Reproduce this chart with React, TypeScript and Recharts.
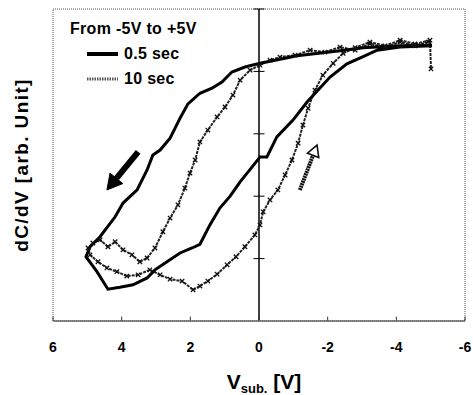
import React from 'react';
import { LineChart, Line, XAxis, YAxis, ReferenceLine, ReferenceArea, Legend } from 'recharts';

// 0.5 sec sweep (black), loop order
const blackX = [-5.04,-4.11,-3.03,-2.36,-1.11,-0.47,-0.03,0.41,0.79,1.08,1.37,1.72,2.07,2.30,2.59,2.88,3.09,3.26,3.55,3.96,4.19,4.63,4.92,5.04,
  4.72,4.40,4.05,3.67,3.26,3.03,2.68,2.30,1.95,1.72,1.43,1.14,0.84,0.55,0.20,-0.03,-0.23,-0.52,-0.99,-1.40,-2.07,-2.56,-3.00,-3.44,-4.11,-5.04];
const blackY = [4.42,4.41,4.38,4.33,4.25,4.18,4.13,4.07,3.99,3.83,3.73,3.65,3.48,3.25,2.93,2.74,2.66,2.42,2.10,1.89,1.67,1.35,1.19,1.03,
  0.79,0.51,0.54,0.58,0.69,0.82,0.95,1.09,1.17,1.23,1.54,1.81,2.00,2.23,2.47,2.63,2.63,2.95,3.22,3.51,3.91,4.12,4.23,4.34,4.39,4.41];

// 10 sec sweep (gray, markers), loop order
const grayX = [-4.92,-4.54,-4.11,-3.67,-3.23,-2.80,-2.36,-1.92,-1.49,-1.05,-0.61,-0.32,-0.03,0.26,0.55,0.76,0.99,1.22,1.49,1.72,1.86,2.01,2.16,2.36,2.59,2.80,3.03,3.26,3.47,3.70,3.96,4.19,4.40,4.63,4.84,4.98,
  4.92,4.69,4.43,4.14,3.85,3.52,3.18,2.88,2.59,2.24,1.92,1.72,1.49,1.22,0.93,0.67,0.41,0.12,-0.03,-0.12,-0.32,-0.55,-0.76,-0.96,-1.14,-1.28,-1.43,-1.63,-1.86,-2.16,-2.45,-2.80,-3.23,-3.67,-4.11,-4.54,-4.98,-5.01];
const grayY = [4.47,4.41,4.47,4.38,4.44,4.34,4.39,4.31,4.34,4.26,4.23,4.18,4.10,4.02,3.86,3.62,3.43,3.27,3.06,2.87,2.58,2.37,2.13,1.86,1.65,1.43,1.17,1.01,0.95,1.06,1.14,1.27,1.19,1.30,1.25,1.17,
  1.06,0.95,0.85,0.79,0.72,0.74,0.82,0.74,0.67,0.64,0.50,0.56,0.64,0.75,0.90,1.03,1.19,1.38,1.54,1.75,1.94,2.10,2.34,2.58,2.85,3.14,3.41,3.70,3.94,4.13,4.29,4.38,4.47,4.41,4.50,4.44,4.50,4.04];

const xTicks = [6, 4, 2, 0, -2, -4, -6];
const yTicks = [1, 2, 3, 4, 5];

const seriesNames = ['0.5 sec', '10 sec'];
const legendTitle = 'From -5V to +5V';

const blackData = blackX.map((x, i) => ({ x, y: blackY[i] }));
const grayData = grayX.map((x, i) => ({ x, y: grayY[i] }));

const FONT = 'Arial, "Liberation Sans", Helvetica, sans-serif';

const Arrow = (props: any) => {
  const { x1, y1, x2, y2, fill, hollow, shaft, head } = props;
  const dx = x2 - x1, dy = y2 - y1;
  const len = Math.sqrt(dx * dx + dy * dy) || 1;
  const ux = dx / len, uy = dy / len;
  const px = -uy, py = ux;
  const bx = x2 - ux * head, by = y2 - uy * head;
  const hw = head * 0.55;
  const pts = `${x2},${y2} ${bx + px * hw},${by + py * hw} ${bx - px * hw},${by - py * hw}`;
  return (
    <g>
      <line x1={x1} y1={y1} x2={bx} y2={by} stroke={fill} strokeWidth={shaft} strokeDasharray={hollow ? '2 0.6' : undefined} />
      <polygon points={pts} fill={hollow ? '#fff' : fill} stroke={fill} strokeWidth={hollow ? 1.6 : 1} />
    </g>
  );
};

const CrossDot = (p: any) => {
  const { cx, cy, index } = p;
  if (cx == null || cy == null) return <g key={'d' + index} />;
  const s = 2.2;
  return (
    <path
      key={'d' + index}
      d={`M${cx - s},${cy - s}L${cx + s},${cy + s}M${cx - s},${cy + s}L${cx + s},${cy - s}`}
      stroke="#111"
      strokeWidth={1.3}
    />
  );
};

const XTick = (props: any) => {
  const { x, y, payload } = props;
  return (
    <text x={x} y={y + 31} textAnchor="middle" fontFamily={FONT} fontWeight={700} fontSize={14} fill="#000">
      {payload.value}
    </text>
  );
};

const LegendContent = () => (
  <div style={{ fontFamily: FONT, fontWeight: 700, fontSize: 16, color: '#000', letterSpacing: 0.3 }}>
    <div style={{ height: 25, lineHeight: '25px', whiteSpace: 'nowrap' }}>{legendTitle}</div>
    {seriesNames.map((n, i) => (
      <div key={n} style={{ height: 25, lineHeight: '25px', display: 'flex', alignItems: 'center', paddingLeft: 17, whiteSpace: 'nowrap' }}>
        <svg width={31} height={10} style={{ marginRight: 6 }}>
          {i === 0 ? (
            <line x1={0} y1={5} x2={31} y2={5} stroke="#000" strokeWidth={4} />
          ) : (
            <line x1={0} y1={5} x2={31} y2={5} stroke="#555" strokeWidth={3} strokeDasharray="1.5 1" />
          )}
        </svg>
        <span>{n}</span>
      </div>
    ))}
  </div>
);

export default function App() {
  return (
    <div style={{ position: 'relative', width: 473, height: 395, background: '#fff' }}>
      <style>{`body{margin:0;background:#fff}`}</style>
      <LineChart width={473} height={395} margin={{ top: 9, right: 8, bottom: 44, left: 53 }}>
        <XAxis
          type="number"
          dataKey="x"
          domain={[-6, 6]}
          reversed
          ticks={xTicks}
          allowDataOverflow
          height={30}
          tickSize={0}
          tickMargin={0}
          tickLine={false}
          tick={<XTick />}
          axisLine={{ stroke: '#666', strokeWidth: 1.5 }}
        />
        <YAxis type="number" domain={[0, 5]} hide allowDataOverflow />
        <ReferenceArea x1={-6} x2={6} y1={0} y2={5} fill="none" stroke="#555" strokeWidth={1} strokeDasharray="1 1" />
        <ReferenceLine x={0} stroke="#000" strokeWidth={1.5} />
        {yTicks.map((t) => (
          <ReferenceLine key={'yt' + t} segment={[{ x: 0.16, y: t }, { x: -0.16, y: t }]} stroke="#000" strokeWidth={1} />
        ))}
        {xTicks.map((t) => (
          <ReferenceLine key={'xt' + t} segment={[{ x: t, y: 0 }, { x: t, y: 0.07 }]} stroke="#333" strokeWidth={1} />
        ))}
        <Line
          data={grayData}
          dataKey="y"
          type="linear"
          stroke="#222"
          strokeWidth={2}
          strokeDasharray="3 1"
          dot={CrossDot}
          isAnimationActive={false}
          name={seriesNames[1]}
        />
        <Line
          data={blackData}
          dataKey="y"
          type="linear"
          stroke="#000"
          strokeWidth={3}
          dot={false}
          isAnimationActive={false}
          name={seriesNames[0]}
        />
        <ReferenceLine
          segment={[{ x: 3.52, y: 2.71 }, { x: 4.43, y: 2.10 }]}
          shape={(p: any) => <Arrow {...p} fill="#000" shaft={6} head={15} />}
        />
        <ReferenceLine
          segment={[{ x: -1.19, y: 2.10 }, { x: -1.69, y: 2.82 }]}
          shape={(p: any) => <Arrow {...p} fill="#111" shaft={4} head={11} hollow />}
        />
        <Legend
          layout="vertical"
          verticalAlign="middle"
          align="center"
          content={<LegendContent />}
          wrapperStyle={{ top: 16, left: 70, width: 180, height: 76 }}
        />
      </LineChart>
      <div
        style={{
          position: 'absolute', left: 22, top: 165, transform: 'translate(-50%, -50%) rotate(-90deg)',
          fontFamily: FONT, fontWeight: 700, fontSize: 19, letterSpacing: 1.4, whiteSpace: 'nowrap', color: '#000',
        }}
      >
        dC/dV [arb. Unit]
      </div>
      <div
        style={{
          position: 'absolute', left: 264, top: 369, transform: 'translateX(-50%)',
          fontFamily: FONT, fontWeight: 700, fontSize: 21, whiteSpace: 'nowrap', color: '#000', lineHeight: '26px',
        }}
      >
        V<span style={{ fontSize: 13, position: 'relative', top: 4 }}>sub.</span> [V]
      </div>
    </div>
  );
}
